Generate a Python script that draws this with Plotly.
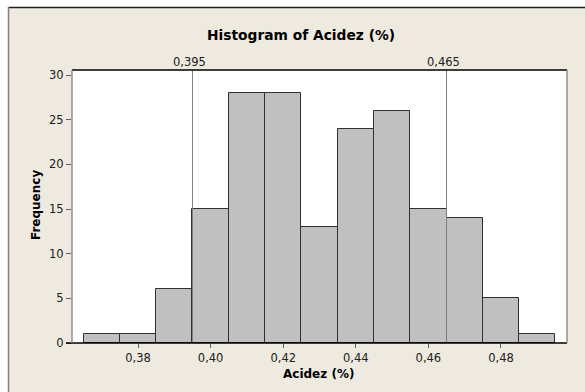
import plotly.graph_objects as go

# Data
bin_centers = [0.37, 0.38, 0.39, 0.40, 0.41, 0.42, 0.43, 0.44, 0.45, 0.46, 0.47, 0.48, 0.49]
counts = [1, 1, 6, 15, 28, 28, 13, 24, 26, 15, 14, 5, 1]
bin_width = 0.01
ref_lines = [0.395, 0.465]
ref_labels = ["0,395", "0,465"]
x_ticks = [0.38, 0.40, 0.42, 0.44, 0.46, 0.48]
y_ticks = [0, 5, 10, 15, 20, 25, 30]

W, H = 585, 392
L, R, T, B = 72, 18, 70, 49
pw, ph = W - L - R, H - T - B

def px_x(p):
    return (p - L) / pw

def px_y(p):
    return (H - B - p) / ph

BG = "#EEEAE0"
FONT = "DejaVu Sans"

fig = go.Figure()
fig.add_trace(go.Bar(
    x=bin_centers, y=counts, width=[bin_width] * len(counts),
    marker=dict(color="#C0C0C0", line=dict(color="#303030", width=1)),
    showlegend=False, hoverinfo="x+y",
))

shapes = []
# white strips outside the Minitab frame
shapes.append(dict(type="rect", xref="paper", yref="paper", x0=px_x(-5), x1=px_x(W + 5),
                   y0=px_y(7), y1=px_y(-5), fillcolor="white", line=dict(width=0), layer="above"))
shapes.append(dict(type="rect", xref="paper", yref="paper", x0=px_x(-5), x1=px_x(8),
                   y0=px_y(H + 5), y1=px_y(-5), fillcolor="white", line=dict(width=0), layer="above"))
# frame lines
shapes.append(dict(type="line", xref="paper", yref="paper", x0=px_x(8), x1=px_x(W + 5),
                   y0=px_y(7.5), y1=px_y(7.5), line=dict(color="#202020", width=1.5)))
shapes.append(dict(type="line", xref="paper", yref="paper", x0=px_x(8.5), x1=px_x(8.5),
                   y0=px_y(7), y1=px_y(H + 5), line=dict(color="#808080", width=1.5)))
# reference lines
for v in ref_lines:
    shapes.append(dict(type="line", xref="x", yref="paper", x0=v, x1=v, y0=0, y1=1,
                       line=dict(color="#808080", width=1), layer="above"))
# plot frame
shapes.append(dict(type="line", xref="paper", yref="paper", x0=0, x1=1, y0=1, y1=1,
                   line=dict(color="#000000", width=1.3), layer="above"))
shapes.append(dict(type="line", xref="paper", yref="paper", x0=px_x(66), x1=1, y0=0, y1=0,
                   line=dict(color="#000000", width=1.3), layer="above"))
shapes.append(dict(type="line", xref="paper", yref="paper", x0=0, x1=0, y0=0, y1=1,
                   line=dict(color="#808080", width=1.3), layer="above"))
shapes.append(dict(type="line", xref="paper", yref="paper", x0=1, x1=1, y0=0, y1=1,
                   line=dict(color="#808080", width=1.3), layer="above"))

annotations = []
for v, lab in zip(ref_lines, ref_labels):
    annotations.append(dict(x=v, y=1, xref="x", yref="paper", text=lab, showarrow=False,
                            xanchor="center", yanchor="bottom", xshift=-3, yshift=-1,
                            font=dict(family=FONT, size=11.5, color="#202020")))
annotations.append(dict(x=px_x(301), y=px_y(35), xref="paper", yref="paper",
                        xanchor="center", yanchor="middle",
                        text="<b>Histogram of Acidez (%)</b>", showarrow=False,
                        font=dict(family=FONT, size=13.8, color="#000000")))
annotations.append(dict(x=px_x(318), y=px_y(374), xref="paper", yref="paper",
                        xanchor="center", yanchor="middle",
                        text="<b>Acidez (%)</b>", showarrow=False,
                        font=dict(family=FONT, size=12, color="#000000")))
annotations.append(dict(x=px_x(36), y=px_y(205), xref="paper", yref="paper",
                        xanchor="center", yanchor="middle",
                        text="<b>Frequency</b>", showarrow=False, textangle=-90,
                        font=dict(family=FONT, size=12, color="#000000")))

fig.update_layout(
    width=W, height=H,
    margin=dict(l=L, r=R, t=T, b=B, pad=0),
    paper_bgcolor=BG, plot_bgcolor="white",
    separators=", ",
    bargap=0,
    font=dict(family=FONT, size=11.5, color="#202020"),
    shapes=shapes, annotations=annotations,
    xaxis=dict(range=[0.3618, 0.4982], tickvals=x_ticks, tickformat=".2f",
               ticks="outside", ticklen=4, tickcolor="#606060", showgrid=False,
               zeroline=False, showline=False, fixedrange=True,
               tickfont=dict(family=FONT, size=11.5, color="#202020")),
    yaxis=dict(range=[0, 30.56], tickvals=y_ticks, ticks="outside", ticklen=5,
               tickcolor="#606060", showgrid=False, zeroline=False, showline=False,
               fixedrange=True, tickfont=dict(family=FONT, size=11.5, color="#202020")),
)

fig.write_html("out.html", config={"displayModeBar": False},
               post_script="document.body.style.margin='0px';document.body.style.overflow='hidden';")
